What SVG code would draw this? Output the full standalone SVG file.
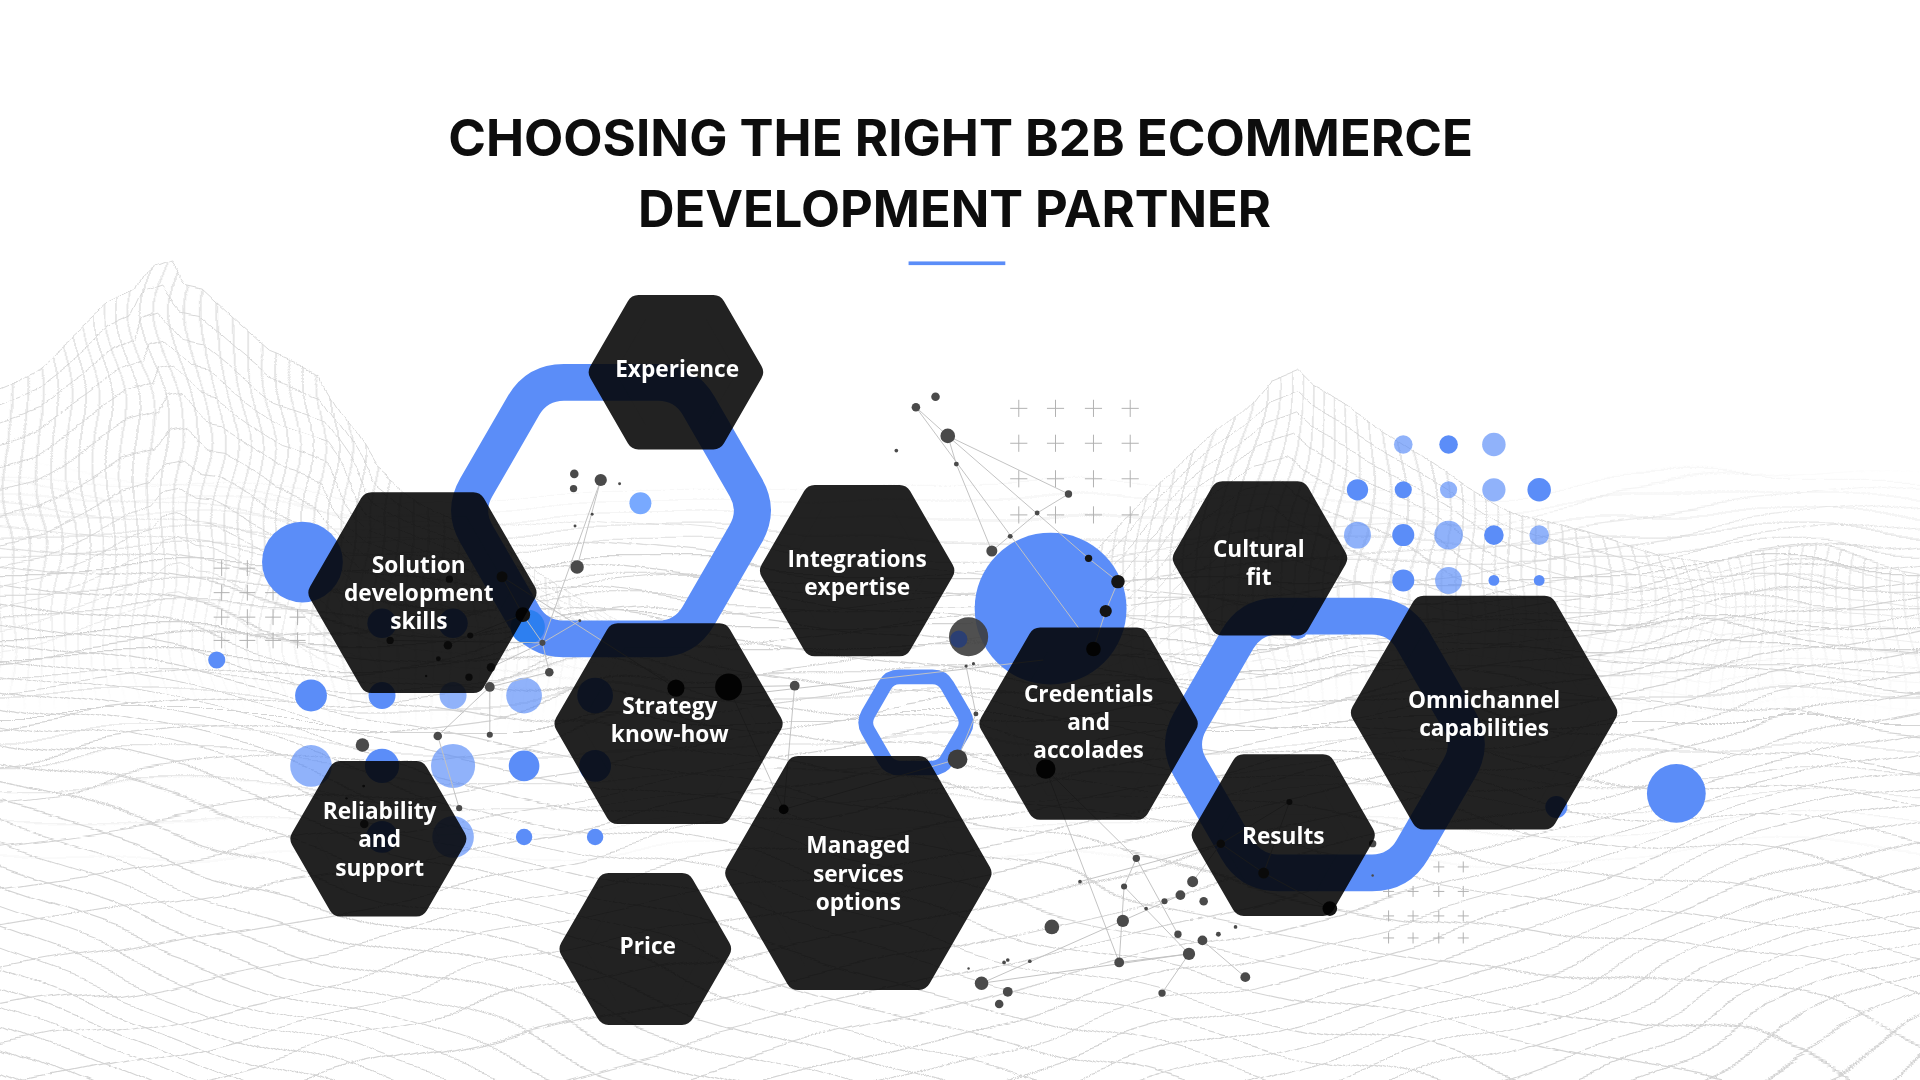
<svg xmlns="http://www.w3.org/2000/svg" width="1920" height="1080" viewBox="0 0 1920 1080">
<style>
.t{font-family:"Inter","Liberation Sans",sans-serif;font-weight:700;font-size:41px;fill:#0d0d0d}
.hx{fill:#222;stroke:#222;stroke-width:20;stroke-linejoin:round;mix-blend-mode:multiply}
.lb{font-family:"Open Sans","Liberation Sans",sans-serif;font-weight:700;font-size:18.5px;fill:#fff;text-anchor:middle}
.ring{fill:none;stroke:#5B8DF8;stroke-linejoin:round}
.b{fill:#5B8DF8}
.lt{fill:#5B8DF8;opacity:.68}
.pl{stroke:#b0b0b0;stroke-width:.8;fill:none}
.nl{stroke:#c2c2c2;stroke-width:.8;fill:none}
.nd{fill:#4a4a4a}
.dk{fill:#141414}
.mesh{stroke:#d3d3d3;stroke-width:.9;fill:none}
</style>
<defs>
<filter id="warp" filterUnits="userSpaceOnUse" x="-60" y="150" width="1700" height="780" color-interpolation-filters="sRGB">
<feTurbulence type="fractalNoise" baseFrequency="0.0045 0.007" numOctaves="2" seed="4" result="n"/>
<feDisplacementMap in="SourceGraphic" in2="n" scale="60" xChannelSelector="R" yChannelSelector="G"/>
</filter>
<linearGradient id="gFloor" gradientUnits="userSpaceOnUse" x1="0" y1="385" x2="0" y2="475"><stop offset="0" stop-color="#000"/><stop offset="1" stop-color="#fff"/></linearGradient>
<mask id="mFloor" maskUnits="userSpaceOnUse" x="-100" y="0" width="1800" height="1000"><rect x="-100" y="0" width="1800" height="1000" fill="url(#gFloor)"/></mask>
<linearGradient id="gHz" gradientUnits="userSpaceOnUse" x1="0" y1="385" x2="0" y2="720"><stop offset="0" stop-color="#000"/><stop offset=".25" stop-color="#fff"/><stop offset=".6" stop-color="#fff"/><stop offset="1" stop-color="#000"/></linearGradient>
<mask id="mHz" maskUnits="userSpaceOnUse" x="-100" y="0" width="1800" height="1000"><rect x="-100" y="0" width="1800" height="1000" fill="url(#gHz)"/></mask>
<linearGradient id="gMtn" gradientUnits="userSpaceOnUse" x1="0" y1="440" x2="0" y2="590"><stop offset="0" stop-color="#fff"/><stop offset="1" stop-color="#000"/></linearGradient>
<mask id="mMtn" maskUnits="userSpaceOnUse" x="-100" y="0" width="1800" height="1000"><rect x="-100" y="0" width="1800" height="1000" fill="url(#gMtn)"/></mask>
<pattern id="vpat" patternUnits="userSpaceOnUse" width="11" height="50"><path d="M5.5 0V50" class="mesh"/></pattern>
<clipPath id="cMtn"><path d="M-10 330L26 315L60 288L95 257L118 246L128 223L141 218L156 238L170 241L196 265L220 286L260 302L300 367L340 400L400 440L450 480L500 520L560 560L560 620L-10 620Z M860 480L900 445L930 420L960 385L985 345L1005 325L1020 305L1045 295L1060 310L1075 318L1100 330L1140 355L1185 385L1230 410L1280 430L1330 445L1400 468L1450 462L1500 455L1540 458L1580 465L1580 660L860 660Z"/></clipPath>
<path id="lp" class="mesh" vector-effect="non-scaling-stroke" d="M-10 330L26 315L60 288L95 257L118 246L128 223L141 218L156 238L170 241L196 265L220 286L260 302L300 367L340 400L400 440L450 480L500 520L560 560"/>
<path id="rp" class="mesh" vector-effect="non-scaling-stroke" d="M860 480L900 445L930 420L960 385L985 345L1005 325L1020 305L1045 295L1060 310L1075 318L1100 330L1140 355L1185 385L1230 410L1280 430L1330 445L1400 468L1450 462L1500 455L1540 458L1580 465"/>
<line id="la" x1="-1400" y1="250" x2="3400" y2="250" class="mesh"/>
<g id="a0"><use href="#la"/><use href="#la" transform="rotate(0.6 -1400 250)"/></g>
<g id="a1"><use href="#a0"/><use href="#a0" transform="rotate(1.2 -1400 250)"/></g>
<g id="a2"><use href="#a1"/><use href="#a1" transform="rotate(2.4 -1400 250)"/></g>
<g id="a3"><use href="#a2"/><use href="#a2" transform="rotate(4.8 -1400 250)"/></g>
<g id="a4"><use href="#a3"/><use href="#a3" transform="rotate(9.6 -1400 250)"/></g>
<line id="lb2" x1="2968" y1="250" x2="-1900" y2="250" class="mesh"/>
<g id="b0"><use href="#lb2"/><use href="#lb2" transform="rotate(-0.6 2968 250)"/></g>
<g id="b1"><use href="#b0"/><use href="#b0" transform="rotate(-1.2 2968 250)"/></g>
<g id="b2"><use href="#b1"/><use href="#b1" transform="rotate(-2.4 2968 250)"/></g>
<g id="b3"><use href="#b2"/><use href="#b2" transform="rotate(-4.8 2968 250)"/></g>
<g id="b4"><use href="#b3"/><use href="#b3" transform="rotate(-9.6 2968 250)"/></g>
<path id="p7" class="pl" d="M-7 0h14M0-7v14"/>
<path id="p6" class="pl" d="M-6.5 0h13M0-6.5v13"/>
<path id="p4" class="pl" d="M-4.5 0h9M0-4.5v9"/>
</defs>
<g transform="scale(1.2244898)">
<rect x="0" y="0" width="1568" height="882" fill="#fff"/>
<g id="terrain" filter="url(#warp)">
 <g mask="url(#mFloor)">
  <use href="#a4" transform="rotate(5.5 -1400 250)"/>
  <use href="#b4" transform="rotate(-5.5 2968 250)"/>
 </g>
 <g mask="url(#mHz)">
  <path class="mesh" d="M-60 398H1630M-60 410H1630M-60 423H1630M-60 437H1630M-60 451H1630M-60 466H1630M-60 482H1630M-60 498H1630M-60 515H1630M-60 533H1630M-60 551H1630M-60 570H1630M-60 590H1630M-60 610H1630M-60 631H1630M-60 653H1630M-60 676H1630M-60 700H1630"/>
 </g>
 <g mask="url(#mMtn)">
  <rect x="-20" y="200" width="1620" height="470" fill="url(#vpat)" clip-path="url(#cMtn)"/>
  <use href="#lp"/>
  <use href="#lp" transform="matrix(1 0 0 .94 0 36)"/>
  <use href="#lp" transform="matrix(1 0 0 .88 0 72)"/>
  <use href="#lp" transform="matrix(1 0 0 .82 0 108)"/>
  <use href="#lp" transform="matrix(1 0 0 .76 0 144)"/>
  <use href="#lp" transform="matrix(1 0 0 .70 0 180)"/>
  <use href="#lp" transform="matrix(1 0 0 .64 0 216)"/>
  <use href="#lp" transform="matrix(1 0 0 .58 0 252)"/>
  <use href="#lp" transform="matrix(1 0 0 .52 0 288)"/>
  <use href="#lp" transform="matrix(1 0 0 .46 0 324)"/>
  <use href="#lp" transform="matrix(1 0 0 .40 0 360)"/>
  <use href="#lp" transform="matrix(1 0 0 .34 0 396)"/>
  <use href="#lp" transform="matrix(1 0 0 .28 0 432)"/>
  <use href="#rp"/>
  <use href="#rp" transform="matrix(1 0 0 .94 0 38.4)"/>
  <use href="#rp" transform="matrix(1 0 0 .88 0 76.8)"/>
  <use href="#rp" transform="matrix(1 0 0 .82 0 115.2)"/>
  <use href="#rp" transform="matrix(1 0 0 .76 0 153.6)"/>
  <use href="#rp" transform="matrix(1 0 0 .70 0 192)"/>
  <use href="#rp" transform="matrix(1 0 0 .64 0 230.4)"/>
  <use href="#rp" transform="matrix(1 0 0 .58 0 268.8)"/>
  <use href="#rp" transform="matrix(1 0 0 .52 0 307.2)"/>
  <use href="#rp" transform="matrix(1 0 0 .46 0 345.6)"/>
  <use href="#rp" transform="matrix(1 0 0 .40 0 384)"/>
  <use href="#rp" transform="matrix(1 0 0 .34 0 422.4)"/>
 </g>
</g>
<g id="plus-grids">
 <use href="#p7" x="832" y="333.5"/><use href="#p7" x="862" y="333.5"/><use href="#p7" x="893" y="333.5"/><use href="#p7" x="923" y="333.5"/>
 <use href="#p7" x="832" y="362"/><use href="#p7" x="862" y="362"/><use href="#p7" x="893" y="362"/><use href="#p7" x="923" y="362"/>
 <use href="#p7" x="832" y="391"/><use href="#p7" x="862" y="391"/><use href="#p7" x="893" y="391"/><use href="#p7" x="923" y="391"/>
 <use href="#p7" x="832" y="420.5"/><use href="#p7" x="862" y="420.5"/><use href="#p7" x="893" y="420.5"/><use href="#p7" x="923" y="420.5"/>
 <use href="#p6" x="181" y="464"/><use href="#p6" x="202" y="464"/><use href="#p6" x="223" y="464"/><use href="#p6" x="243" y="464"/>
 <use href="#p6" x="181" y="484"/><use href="#p6" x="202" y="484"/><use href="#p6" x="223" y="484"/><use href="#p6" x="243" y="484"/>
 <use href="#p6" x="181" y="504"/><use href="#p6" x="202" y="504"/><use href="#p6" x="223" y="504"/><use href="#p6" x="243" y="504"/>
 <use href="#p6" x="181" y="523"/><use href="#p6" x="202" y="523"/><use href="#p6" x="223" y="523"/><use href="#p6" x="243" y="523"/>
 <use href="#p4" x="1134" y="708"/><use href="#p4" x="1154" y="708"/><use href="#p4" x="1175" y="708"/><use href="#p4" x="1195" y="708"/>
 <use href="#p4" x="1134" y="728"/><use href="#p4" x="1154" y="728"/><use href="#p4" x="1175" y="728"/><use href="#p4" x="1195" y="728"/>
 <use href="#p4" x="1134" y="748"/><use href="#p4" x="1154" y="748"/><use href="#p4" x="1175" y="748"/><use href="#p4" x="1195" y="748"/>
 <use href="#p4" x="1134" y="766"/><use href="#p4" x="1154" y="766"/><use href="#p4" x="1175" y="766"/><use href="#p4" x="1195" y="766"/>
</g>
<g id="rings">
 <path class="ring" stroke-width="30" d="M389 397.95L427.5 331.25Q438.5 312.2 460.5 312.2L537.5 312.2Q559.5 312.2 570.5 331.25L609 397.95Q620 417 609 436.05L570.5 502.75Q559.5 521.8 537.5 521.8L460.5 521.8Q438.5 521.8 427.5 502.75L389 436.05Q378 417 389 397.95Z"/>
 <path class="ring" stroke-width="30" d="M972 588.95L1010.5 522.25Q1021.5 503.2 1043.5 503.2L1120.5 503.2Q1142.5 503.2 1153.5 522.25L1192 588.95Q1203 608 1192 627.05L1153.5 693.75Q1142.5 712.8 1120.5 712.8L1043.5 712.8Q1021.5 712.8 1010.5 693.75L972 627.05Q961 608 972 588.95Z"/>
 <path class="ring" stroke-width="12" d="M709 583.07L722.5 559.73Q726.5 552.8 734.5 552.8L761.5 552.8Q769.5 552.8 773.5 559.73L787 583.07Q791 590 787 596.93L773.5 620.27Q769.5 627.2 761.5 627.2L734.5 627.2Q726.5 627.2 722.5 620.27L709 596.93Q705 590 709 583.07Z"/>
</g>
<g id="circles">
 <circle class="b" cx="858" cy="497" r="62"/>
 <circle class="b" cx="247" cy="459" r="33"/>
 <circle class="b" cx="1369" cy="648" r="24"/>
 <circle class="b" cx="177" cy="539" r="7"/>
 <circle cx="523" cy="411" r="9" fill="#78a9ff"/>
 <circle cx="431" cy="512" r="14" fill="#2d7ff0"/>
 <circle class="b" cx="1271" cy="659" r="9"/>
 <circle class="b" cx="1060" cy="514" r="8"/>
 <circle class="b" cx="312" cy="509" r="12"/><circle class="b" cx="370" cy="509" r="12"/>
 <circle class="b" cx="254" cy="568" r="13"/><circle class="b" cx="312" cy="568" r="11"/><circle class="lt" cx="370" cy="568" r="11"/><circle class="lt" cx="428" cy="568" r="14.6"/><circle class="b" cx="486" cy="568" r="14.6"/>
 <circle class="lt" cx="254" cy="625.5" r="17"/><circle class="b" cx="312" cy="625.5" r="14"/><circle class="lt" cx="370" cy="625.5" r="18"/><circle class="b" cx="428" cy="625.5" r="12.5"/><circle class="b" cx="486" cy="625.5" r="13"/>
 <circle class="b" cx="312" cy="683.5" r="13"/><circle class="lt" cx="370" cy="683.5" r="17"/><circle class="b" cx="428" cy="683.5" r="6.7"/><circle class="b" cx="486" cy="683.5" r="6.7"/>
 <circle class="lt" cx="1146" cy="363" r="7.6"/><circle class="b" cx="1183" cy="363" r="7.6"/><circle class="lt" cx="1220" cy="363" r="9.6"/>
 <circle class="b" cx="1108.6" cy="400" r="8.7"/><circle class="b" cx="1146" cy="400" r="7"/><circle class="lt" cx="1183" cy="400" r="7"/><circle class="lt" cx="1220" cy="400" r="9.5"/><circle class="b" cx="1257" cy="400" r="9.6"/>
 <circle class="lt" cx="1108.6" cy="437" r="11"/><circle class="b" cx="1146" cy="437" r="9"/><circle class="lt" cx="1183" cy="437" r="11.7"/><circle class="b" cx="1220" cy="437" r="8"/><circle class="lt" cx="1257" cy="437" r="8"/>
 <circle class="b" cx="1146" cy="474" r="9"/><circle class="lt" cx="1183" cy="474" r="11"/><circle class="b" cx="1220" cy="474" r="4.4"/><circle class="b" cx="1257" cy="474" r="4.4"/>
</g>
<g id="connectors">
 <path class="nl" d="M748 332.6L774 356L872.6 403.4M748 332.6L881 513M774 356L889 456L913 475L903 499L893 530M774 356L781 379L810 450L847 419L872.6 403.4M789 544L797 583L782 620M600 568L852 539M490.6 392L443 525M490.6 392L471.3 463M410 471L427 502L443 525L448.6 549L400 561M410 471L552 562L595 561L649 560M318.6 523L443 525L473.5 507M365.8 527L384 519L427 502M401 545L443 525M400 561L400 600M400 561L357.5 601L375 660M649 560L640 661L782 620M595 561L640 661M854 628L914 786M854 628L928 701M882 720L997 689M918 724L914 786L971 779L918 724M928 701L962 763M928 701L918 724M801.6 803L964 731M801.6 803L971 779M971 779L949 811M982 768L1017 798M974 720L997 689L1032 713M997 689L1053 655L1032 713M1032 713L1086 742"/>
 <circle cx="791" cy="520" r="16" fill="#3d3d3d" opacity=".9"/>
 <circle cx="783" cy="522" r="7" fill="#2b3f73"/>
 <g class="nd">
  <circle cx="748" cy="332.6" r="3.5"/><circle cx="764" cy="324" r="3.5"/><circle cx="774" cy="356" r="6"/><circle cx="732" cy="368" r="1.5"/><circle cx="781" cy="379" r="2"/><circle cx="872.6" cy="403.4" r="3"/><circle cx="847" cy="419" r="2"/><circle cx="825" cy="438" r="2"/><circle cx="810" cy="450" r="4.5"/><circle cx="789" cy="544" r="1.3"/><circle cx="795" cy="542" r="1.3"/><circle cx="797" cy="583" r="2"/>
  <circle cx="782" cy="620" r="8" fill="#3d3d3d"/>
  <circle cx="469" cy="387" r="3.5"/><circle cx="468.4" cy="399" r="3"/><circle cx="490.6" cy="392" r="5"/><circle cx="506" cy="395" r="1.2"/><circle cx="483.6" cy="420" r="1.2"/><circle cx="469.6" cy="429.5" r="1.2"/><circle cx="471.3" cy="463" r="5.5"/><circle cx="410" cy="471" r="4.5"/><circle cx="367" cy="473" r="3"/><circle cx="318.6" cy="523" r="3"/><circle cx="365.8" cy="527" r="3.5"/><circle cx="384" cy="519" r="2.5"/><circle cx="443" cy="525" r="2.5"/><circle cx="473.5" cy="507" r="1.2"/><circle cx="448.6" cy="549" r="3.5"/><circle cx="358" cy="538" r="2"/><circle cx="401" cy="545" r="3.5"/><circle cx="383" cy="553" r="3"/><circle cx="348" cy="552" r="1"/><circle cx="649" cy="560" r="4"/><circle cx="400" cy="561" r="4"/><circle cx="400" cy="600" r="2.5"/><circle cx="357.5" cy="601" r="3.5"/><circle cx="296" cy="608.5" r="5.5"/><circle cx="375" cy="660" r="2.5"/><circle cx="297" cy="642" r="1.2"/><circle cx="283" cy="652" r="1"/><circle cx="297.5" cy="673" r="3.5"/>
  <circle cx="928" cy="701" r="3"/><circle cx="882" cy="720" r="1.5"/><circle cx="918" cy="724" r="2.5"/><circle cx="974" cy="720" r="4.5"/><circle cx="964" cy="731" r="4"/><circle cx="983" cy="736" r="3.5"/><circle cx="951" cy="736" r="2.5"/><circle cx="936" cy="742" r="1.5"/><circle cx="917" cy="752" r="5"/><circle cx="859" cy="757" r="6"/><circle cx="962" cy="763" r="3"/><circle cx="982" cy="768" r="4"/><circle cx="995" cy="763" r="2"/><circle cx="1009" cy="757" r="1.5"/><circle cx="971" cy="779" r="5"/><circle cx="914" cy="786" r="4"/><circle cx="1017" cy="798" r="4"/><circle cx="949" cy="811" r="3"/><circle cx="801.6" cy="803" r="5.5"/><circle cx="823" cy="810" r="4"/><circle cx="816" cy="820" r="3.5"/><circle cx="791" cy="791" r="1"/><circle cx="820" cy="786" r="1.5"/><circle cx="823" cy="784" r="1.5"/><circle cx="841" cy="785" r="1.5"/><circle cx="997" cy="689" r="3.5"/><circle cx="1032" cy="713" r="4.5"/><circle cx="1053" cy="655" r="2.5"/><circle cx="1121" cy="689" r="3"/><circle cx="1121" cy="715" r="1"/>
 </g>
 <g class="dk">
  <circle cx="889" cy="456" r="3"/><circle cx="913" cy="475" r="5.5"/><circle cx="903" cy="499" r="5"/><circle cx="893" cy="530" r="6"/><circle cx="854" cy="628" r="8"/><circle cx="427" cy="502" r="6"/><circle cx="552" cy="562" r="7"/><circle cx="595" cy="561" r="11"/><circle cx="640" cy="661" r="4"/><circle cx="1086" cy="742" r="6"/>
 </g>
</g>
<g id="node-experience"><polygon class="hx" points="490.8,304 521.4,251 582.6,251 613.2,304 582.6,357 521.4,357"/><text class="lb" x="553" y="308">Experience</text></g>
<g id="node-solution"><polygon class="hx" points="261.9,484 303.5,412 386.5,412 428.1,484 386.5,556 303.5,556"/><text class="lb" x="342" y="467.7">Solution</text><text class="lb" x="342" y="490.6">development</text><text class="lb" x="342" y="513.4">skills</text></g>
<g id="node-integrations"><polygon class="hx" points="630.7,466 665.4,406 734.6,406 769.3,466 734.6,526 665.4,526"/><text class="lb" x="700" y="463">Integrations</text><text class="lb" x="700" y="486">expertise</text></g>
<g id="node-strategy"><polygon class="hx" points="462.9,591 504.5,519 587.5,519 629.1,591 587.5,663 504.5,663"/><text class="lb" x="547" y="583">Strategy</text><text class="lb" x="547" y="606">know-how</text></g>
<g id="node-reliability"><polygon class="hx" points="247.2,685 278.1,631.5 339.9,631.5 370.8,685 339.9,738.5 278.1,738.5"/><text class="lb" x="310" y="669">Reliability</text><text class="lb" x="310" y="692">and</text><text class="lb" x="310" y="715">support</text></g>
<g id="node-price"><polygon class="hx" points="467,775 497,723 557,723 587,775 557,827 497,827"/><text class="lb" x="529" y="779">Price</text></g>
<g id="node-managed"><polygon class="hx" points="602.3,713 651.7,627.5 750.4,627.5 799.7,713 750.4,798.5 651.7,798.5"/><text class="lb" x="701" y="697">Managed</text><text class="lb" x="701" y="720">services</text><text class="lb" x="701" y="743">options</text></g>
<g id="node-credentials"><polygon class="hx" points="809.9,591 849.5,522.5 928.6,522.5 968.1,591 928.6,659.5 849.5,659.5"/><text class="lb" x="889" y="573">Credentials</text><text class="lb" x="889" y="596">and</text><text class="lb" x="889" y="619">accolades</text></g>
<g id="node-cultural"><polygon class="hx" points="967.8,456 998.4,403 1059.6,403 1090.2,456 1059.6,509 998.4,509"/><text class="lb" x="1028" y="455">Cultural</text><text class="lb" x="1028" y="478">fit</text></g>
<g id="node-results"><polygon class="hx" points="983.3,682 1015.7,626 1080.4,626 1112.7,682 1080.4,738 1015.7,738"/><text class="lb" x="1048" y="689">Results</text></g>
<g id="node-omnichannel"><polygon class="hx" points="1113.3,582 1162.7,496.5 1261.4,496.5 1310.7,582 1261.4,667.5 1162.7,667.5"/><text class="lb" x="1212" y="578">Omnichannel</text><text class="lb" x="1212" y="601">capabilities</text></g>
<g id="title">
 <text class="t" x="366" y="127.4" textLength="837" lengthAdjust="spacingAndGlyphs">CHOOSING THE RIGHT B2B ECOMMERCE</text>
 <text class="t" x="521" y="185" textLength="517" lengthAdjust="spacingAndGlyphs">DEVELOPMENT PARTNER</text>
 <rect x="742" y="213.5" width="79" height="3" fill="#5B8DF8"/>
</g>
</g>
</svg>
